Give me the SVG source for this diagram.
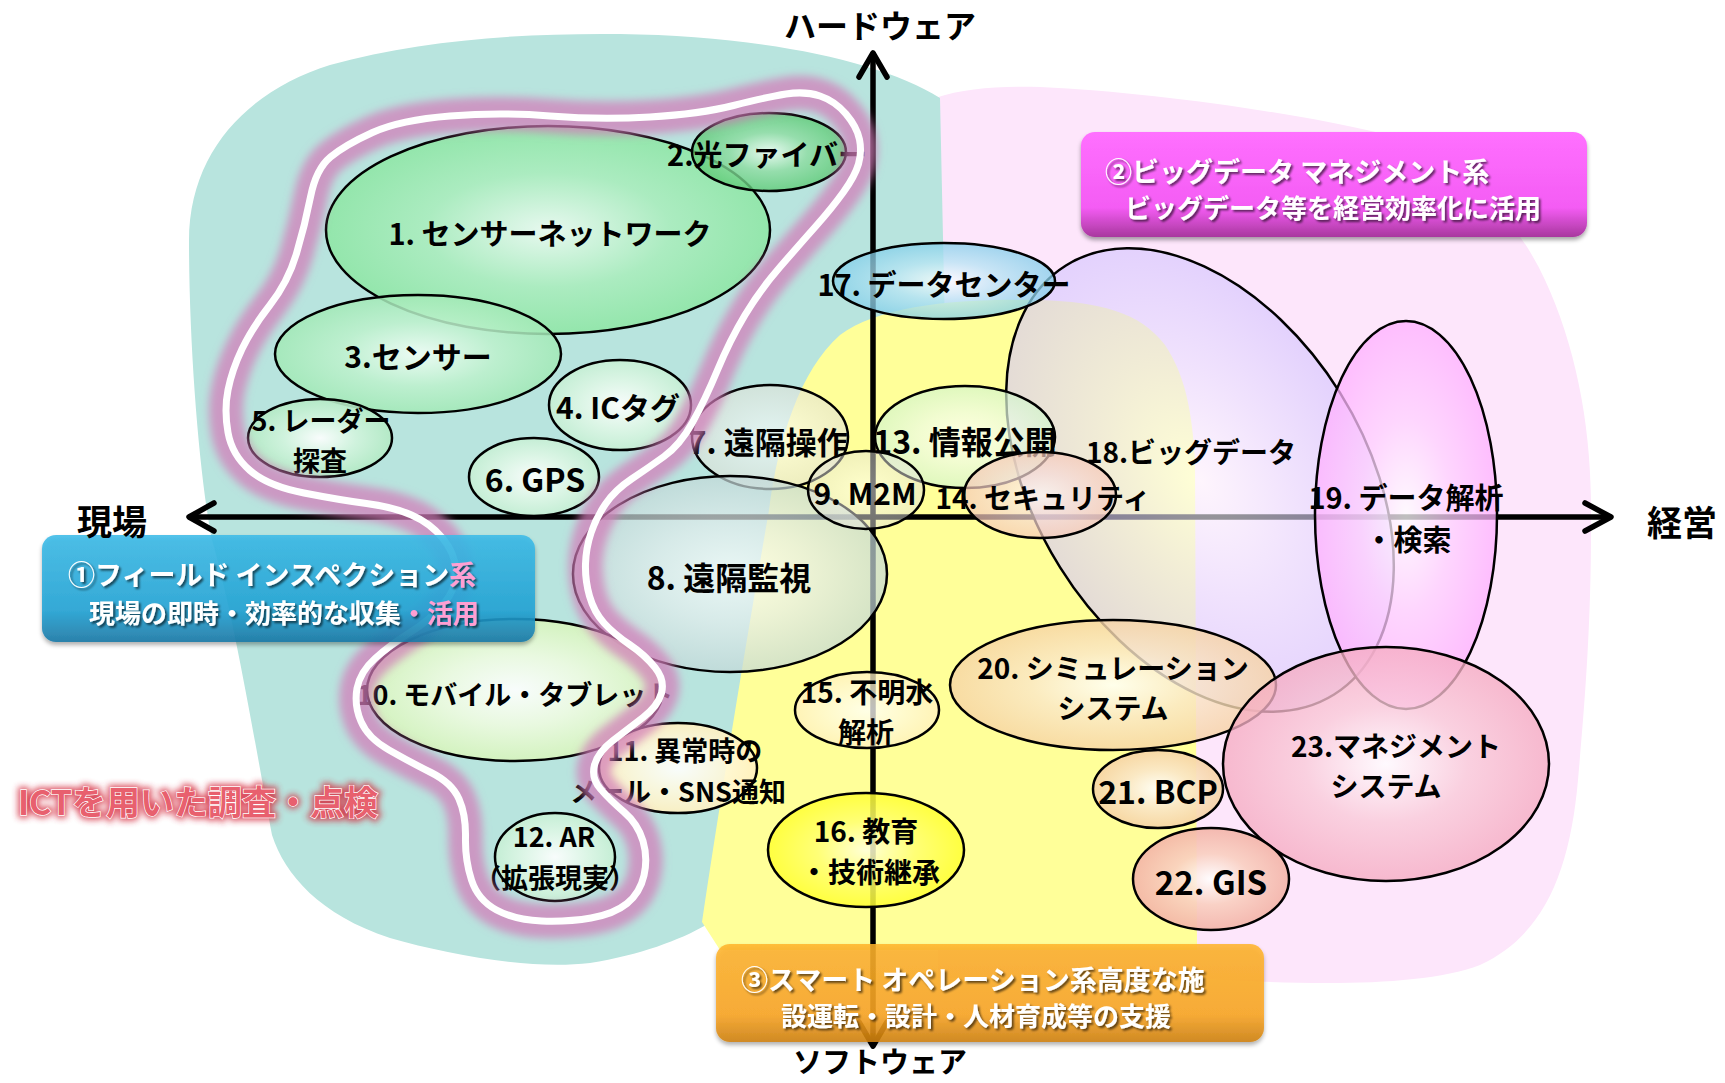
<svg xmlns="http://www.w3.org/2000/svg" width="1725" height="1083" viewBox="0 0 1725 1083">
<style>
.e{stroke:#000;stroke-width:2.5}
.t{font-family:"Noto Sans CJK JP","Noto Sans",sans-serif;font-weight:700;text-anchor:middle;dominant-baseline:central;fill:#000}
.bt{font-family:"Noto Sans CJK JP","Noto Sans",sans-serif;font-weight:700;fill:#fff;dominant-baseline:central}
.ax{stroke:#000;stroke-width:5.5;fill:none;stroke-linecap:round;stroke-linejoin:round}
.pk{fill:#ff9fd2}
</style>
<defs>
<filter id="blur" x="-10%" y="-10%" width="120%" height="120%"><feGaussianBlur stdDeviation="4"/></filter>
<filter id="tsh" x="-5%" y="-20%" width="110%" height="150%"><feDropShadow dx="2" dy="2" stdDeviation="1" flood-color="#000" flood-opacity="0.6"/></filter>
<filter id="bsh" x="-5%" y="-10%" width="110%" height="130%"><feDropShadow dx="0" dy="3" stdDeviation="2" flood-color="#000" flood-opacity="0.35"/></filter>
<filter id="rglow" x="-10%" y="-30%" width="120%" height="160%"><feGaussianBlur stdDeviation="3"/></filter>
<radialGradient id="gG1"><stop offset="0" stop-color="#effcf2"/><stop offset=".55" stop-color="#a9edbb"/><stop offset="1" stop-color="#8de6a3"/></radialGradient>
<radialGradient id="gG2"><stop offset="0" stop-color="#f2fff4"/><stop offset=".5" stop-color="#8ddca0"/><stop offset="1" stop-color="#5fcb77"/></radialGradient>
<radialGradient id="gG3"><stop offset="0" stop-color="#f4fff7"/><stop offset=".55" stop-color="#bdf1cc"/><stop offset="1" stop-color="#a2e9b6"/></radialGradient>
<radialGradient id="gG4"><stop offset="0" stop-color="#ffffff"/><stop offset=".55" stop-color="#dff7e6"/><stop offset="1" stop-color="#c6efd4"/></radialGradient>
<radialGradient id="gG5"><stop offset="0" stop-color="#ffffff"/><stop offset=".5" stop-color="#d2f4dd"/><stop offset="1" stop-color="#b3eac4"/></radialGradient>
<radialGradient id="gW"><stop offset="0" stop-color="#ffffff"/><stop offset="1" stop-color="#e2e2d8"/></radialGradient>
<radialGradient id="gGr"><stop offset="0" stop-color="#ffffff"/><stop offset=".5" stop-color="#e4eded"/><stop offset="1" stop-color="#c3d8d8"/></radialGradient>
<radialGradient id="gYG"><stop offset="0" stop-color="#ffffff"/><stop offset=".5" stop-color="#eefbe0"/><stop offset="1" stop-color="#d6f4bc"/></radialGradient>
<radialGradient id="gCr"><stop offset="0" stop-color="#ffffff"/><stop offset=".5" stop-color="#fff9df"/><stop offset="1" stop-color="#fff0c0"/></radialGradient>
<radialGradient id="gG13"><stop offset="0" stop-color="#ffffff"/><stop offset=".5" stop-color="#ecfbe8"/><stop offset="1" stop-color="#d2f5cc"/></radialGradient>
<radialGradient id="gPk"><stop offset="0" stop-color="#fff8f6"/><stop offset=".5" stop-color="#f8dcd8"/><stop offset="1" stop-color="#f6c8b8"/></radialGradient>
<radialGradient id="gY"><stop offset="0" stop-color="#ffffe0"/><stop offset=".5" stop-color="#ffff70"/><stop offset="1" stop-color="#ffff30"/></radialGradient>
<radialGradient id="gB"><stop offset="0" stop-color="#ffffff"/><stop offset=".5" stop-color="#b6e4f4"/><stop offset="1" stop-color="#84cfea"/></radialGradient>
<radialGradient id="gL"><stop offset="0" stop-color="#ffffff"/><stop offset=".5" stop-color="#e8e0ff"/><stop offset="1" stop-color="#d2c4ff"/></radialGradient>
<radialGradient id="gM"><stop offset="0" stop-color="#ffffff"/><stop offset=".5" stop-color="#ffd0ff"/><stop offset="1" stop-color="#ffb0ff"/></radialGradient>
<radialGradient id="gP"><stop offset="0" stop-color="#ffffff"/><stop offset=".5" stop-color="#fae6c8"/><stop offset="1" stop-color="#f6d3a4"/></radialGradient>
<radialGradient id="gS"><stop offset="0" stop-color="#ffffff"/><stop offset=".5" stop-color="#f9cfc0"/><stop offset="1" stop-color="#f3b4a8"/></radialGradient>
<radialGradient id="gR"><stop offset="0" stop-color="#ffffff"/><stop offset=".5" stop-color="#f9cad8"/><stop offset="1" stop-color="#f5acc2"/></radialGradient>
<linearGradient id="lBlue" x1="0" y1="0" x2="0" y2="1"><stop offset="0" stop-color="#3cbbe8"/><stop offset=".7" stop-color="#22a4d6"/><stop offset="1" stop-color="#1978a6"/></linearGradient>
<linearGradient id="lPink" x1="0" y1="0" x2="0" y2="1"><stop offset="0" stop-color="#ff70ff"/><stop offset=".72" stop-color="#f45cf4"/><stop offset="1" stop-color="#a8389e"/></linearGradient>
<linearGradient id="lOr" x1="0" y1="0" x2="0" y2="1"><stop offset="0" stop-color="#ffb42a"/><stop offset=".72" stop-color="#fba522"/><stop offset="1" stop-color="#cf800c"/></linearGradient>
<path id="band" d="M310.5,197 Q316,169 330.5,157 Q345,145 372.5,132.5 Q400,120 450,116 Q500,112 550,116 Q600,120 650,117 Q700,114 733.5,105.5 Q767,97 786,94 Q805,91 820,96 Q835,101 846,114 Q857,127 859.5,139.5 Q862,152 858.5,164 Q855,176 843.5,192 Q832,208 816,226 Q800,244 780,267 Q760,290 745,315 Q730,340 717.5,370 Q705,400 692.5,422.5 Q680,445 664,456.5 Q648,468 631.5,479 Q615,490 605.5,504 Q596,518 591,533 Q586,548 585.5,564 Q585,580 589.5,596 Q594,612 604,623 Q614,634 629.5,644.5 Q645,655 655,667.5 Q665,680 661.5,693 Q658,706 643,717.5 Q628,729 613,740.5 Q598,752 594.5,765 Q591,778 600.5,789 Q610,800 624,812 Q638,824 643,841 Q648,858 644,875.5 Q640,893 627,903.5 Q614,914 591,918 Q568,922 541.5,921 Q515,920 496.5,910 Q478,900 471.5,880 Q465,860 465.5,837.5 Q466,815 459,799 Q452,783 431,772.5 Q410,762 389,750 Q368,738 361,721.5 Q354,705 357,688.5 Q360,672 375,658.5 Q390,645 410,632.5 Q430,620 443.5,604 Q457,588 456,570.5 Q455,553 442.5,538 Q430,523 411.5,515 Q393,507 366.5,503.5 Q340,500 304,493 Q268,486 250,470.5 Q232,455 228,432.5 Q224,410 228,390 Q232,370 242,349 Q252,328 270,305 Q288,282 296.5,253.5 Q305,225 310.5,197 Z"/>
</defs>
<rect width="1725" height="1083" fill="#fff"/>
<g id="regions">
<path id="region-management" fill="#fde6fb" d="M935,98 C965,88 1000,86 1040,87 C1150,92 1290,112 1380,133 C1460,160 1515,215 1545,280 C1575,345 1590,420 1591,500 C1592,620 1585,700 1578,780 C1570,870 1545,935 1480,965 C1420,988 1300,985 1196,978 L938,978 Z"/>
<path id="region-field" fill="#b8e4de" d="M189,241 C189,150 250,90 330,65 C420,40 520,33 620,34 C760,36 880,60 940,98 L945,330 L706,925 C680,940 640,955 590,963 C530,970 450,955 390,938 C320,915 285,875 272,835 C258,760 235,620 212,540 C200,480 189,350 189,241 Z"/>
<path id="region-operation" fill="#ffff99" d="M720,950 L702,922 C720,800 750,620 769,510 C778,440 800,370 840,335 C880,305 960,298 1040,300 C1100,302 1140,312 1165,345 C1185,375 1192,410 1195,460 L1197,950 Z"/>
</g>
<g id="axes">
<line class="ax" x1="873" y1="54" x2="873" y2="1044"/>
<polyline class="ax" points="859,77 873,53 887,77"/>
<polyline class="ax" points="859,1022 873,1046 887,1022"/>
<line class="ax" x1="190" y1="517" x2="1610" y2="517"/>
<polyline class="ax" points="214,503 189,517 214,531"/>
<polyline class="ax" points="1585,503 1611,517 1585,531"/>
</g>
<g id="n18">
<ellipse class="e" cx="1200" cy="480" rx="253" ry="165" transform="rotate(58 1200 480)" fill="url(#gL)" fill-opacity="0.6"/>
</g>
<g id="n1"><ellipse class="e" cx="548" cy="230" rx="222" ry="104" fill="url(#gG1)" fill-opacity="0.85"/><text class="t" x="550" y="232" font-size="29">1. センサーネットワーク</text></g>
<g id="n2"><ellipse class="e" cx="769" cy="152" rx="77" ry="39" fill="url(#gG2)" fill-opacity="0.8"/><text class="t" x="767" y="153" font-size="29">2.光ファイバー</text></g>
<g id="n3"><ellipse class="e" cx="418" cy="354" rx="143" ry="59" fill="url(#gG3)" fill-opacity="0.85"/><text class="t" x="418" y="355" font-size="30">3.センサー</text></g>
<g id="n4"><ellipse class="e" cx="620" cy="405" rx="71" ry="45" fill="url(#gG4)" fill-opacity="0.9"/><text class="t" x="618" y="406" font-size="30">4. ICタグ</text></g>
<g id="n5"><ellipse class="e" cx="320" cy="438" rx="72" ry="39" fill="url(#gG5)" fill-opacity="0.9"/><text class="t" x="321" y="419" font-size="27">5. レーダー</text><text class="t" x="320" y="459" font-size="27">探査</text></g>
<g id="n6"><ellipse class="e" cx="534" cy="477" rx="65" ry="39" fill="url(#gG4)" fill-opacity="0.9"/><text class="t" x="535" y="478" font-size="32">6. GPS</text></g>
<g id="n17"><ellipse class="e" cx="944" cy="281" rx="111" ry="38" fill="url(#gB)" fill-opacity="0.75"/><text class="t" x="944" y="283" font-size="29">17. データセンター</text></g>
<g id="n7"><ellipse class="e" cx="770" cy="437" rx="78" ry="52" fill="url(#gW)" fill-opacity="0.6"/><text class="t" x="768" y="440" font-size="31">7. 遠隔操作</text></g>
<g id="n8"><ellipse class="e" cx="730" cy="574" rx="157" ry="98" fill="url(#gGr)" fill-opacity="0.7"/><text class="t" x="729" y="576" font-size="32">8. 遠隔監視</text></g>
<g id="n13"><ellipse class="e" cx="965" cy="437" rx="90" ry="51" fill="url(#gG13)" fill-opacity="0.7"/><text class="t" x="965" y="440" font-size="32">13. 情報公開</text></g>
<g id="n9"><ellipse class="e" cx="866" cy="490" rx="58" ry="39" fill="url(#gW)" fill-opacity="0.5"/><text class="t" x="865" y="492" font-size="30">9. M2M</text></g>
<g id="n14"><ellipse class="e" cx="1040" cy="495" rx="76" ry="43" fill="url(#gPk)" fill-opacity="0.7"/><text class="t" x="1043" y="497" font-size="28">14. セキュリティ</text></g>
<g id="n18-label"><text class="t" x="1191" y="451" font-size="28">18.ビッグデータ</text></g>
<g id="n10"><ellipse class="e" cx="515" cy="690" rx="148" ry="71" fill="url(#gYG)" fill-opacity="0.9"/><text class="t" x="515" y="693" font-size="27">10. モバイル・タブレット</text></g>
<g id="n11"><ellipse class="e" cx="678" cy="768" rx="79" ry="45" fill="url(#gCr)" fill-opacity="0.9"/><text class="t" x="685" y="749" font-size="27">11. 異常時の</text><text class="t" x="678" y="790" font-size="27">メール・SNS通知</text></g>
<g id="n12"><ellipse class="e" cx="555" cy="857" rx="60" ry="44" fill="url(#gG4)" fill-opacity="0.9"/><text class="t" x="554" y="835" font-size="27">12. AR</text><text class="t" x="555" y="876" font-size="27">（拡張現実）</text></g>
<g id="n15"><ellipse class="e" cx="867" cy="710" rx="72" ry="38" fill="url(#gCr)" fill-opacity="0.75"/><text class="t" x="867" y="691" font-size="28">15. 不明水</text><text class="t" x="866" y="731" font-size="28">解析</text></g>
<g id="n16"><ellipse class="e" cx="866" cy="850" rx="98" ry="57" fill="url(#gY)" fill-opacity="0.85"/><text class="t" x="866" y="830" font-size="28">16. 教育</text><text class="t" x="870" y="871" font-size="28">・技術継承</text></g>
<g id="n19"><ellipse class="e" cx="1406" cy="515" rx="91" ry="194" fill="url(#gM)" fill-opacity="0.75"/><text class="t" x="1406" y="496" font-size="29">19. データ解析</text><text class="t" x="1408" y="538" font-size="29">・検索</text></g>
<g id="n20"><ellipse class="e" cx="1113" cy="685" rx="163" ry="65" fill="url(#gP)" fill-opacity="0.8"/><text class="t" x="1113" y="667" font-size="28">20. シミュレーション</text><text class="t" x="1113" y="707" font-size="28">システム</text></g>
<g id="n23"><ellipse class="e" cx="1386" cy="764" rx="163" ry="117" fill="url(#gR)" fill-opacity="0.78"/><text class="t" x="1396" y="745" font-size="28">23.マネジメント</text><text class="t" x="1386" y="785" font-size="28">システム</text></g>
<g id="n21"><ellipse class="e" cx="1158" cy="789" rx="65" ry="39" fill="url(#gP)" fill-opacity="0.9"/><text class="t" x="1158" y="790" font-size="32">21. BCP</text></g>
<g id="n22"><ellipse class="e" cx="1211" cy="879" rx="78" ry="51" fill="url(#gS)" fill-opacity="0.9"/><text class="t" x="1211" y="881" font-size="33">22. GIS</text></g>
<g id="field-outline">
<use href="#band" fill="none" stroke="#d27cb8" stroke-width="34" stroke-opacity="0.72" filter="url(#blur)"/>
<use href="#band" fill="none" stroke="#ffffff" stroke-width="7"/>
</g>
<g id="box-field" filter="url(#bsh)">
<rect x="42" y="535" width="493" height="107" rx="14" fill="url(#lBlue)" fill-opacity="0.88"/>
</g>
<g id="box-field-text" filter="url(#tsh)">
<text class="bt" x="68" y="573" font-size="27">①フィールド インスペクション<tspan class="pk">系</tspan></text>
<text class="bt" x="89" y="611" font-size="26">現場の即時・効率的な収集<tspan class="pk">・活用</tspan></text>
</g>
<g id="box-management">
<rect x="1081" y="132" width="506" height="105" rx="14" fill="url(#lPink)" filter="url(#bsh)"/>
<g filter="url(#tsh)">
<text class="bt" x="1105" y="170" font-size="27">②ビッグデータ マネジメント系</text>
<text class="bt" x="1125" y="206" font-size="26">ビッグデータ等を経営効率化に活用</text>
</g>
</g>
<g id="box-operation">
<rect x="716" y="944" width="548" height="98" rx="14" fill="url(#lOr)" fill-opacity="0.86" filter="url(#bsh)"/>
<g filter="url(#tsh)">
<text class="bt" x="741" y="978" font-size="27">③スマート オペレーション系高度な施</text>
<text class="bt" x="781" y="1014" font-size="26">設運転・設計・人材育成等の支援</text>
</g>
</g>
<g id="axis-labels">
<text class="t" x="880" y="24" font-size="32">ハードウェア</text>
<text class="t" x="880" y="1060" font-size="29">ソフトウェア</text>
<text class="t" x="112" y="519" font-size="35">現場</text>
<text class="t" x="1682" y="520" font-size="35">経営</text>
</g>
<g id="ict-label">
<text class="t" x="198" y="800" font-size="34" style="fill:#d42a3c;stroke:#d42a3c;stroke-width:6" filter="url(#rglow)" opacity="0.8">ICTを用いた調査・点検</text>
<text class="t" x="198" y="800" font-size="34" style="fill:#e8606e;stroke:#ffffff;stroke-width:1.4;paint-order:stroke">ICTを用いた調査・点検</text>
</g>
</svg>
